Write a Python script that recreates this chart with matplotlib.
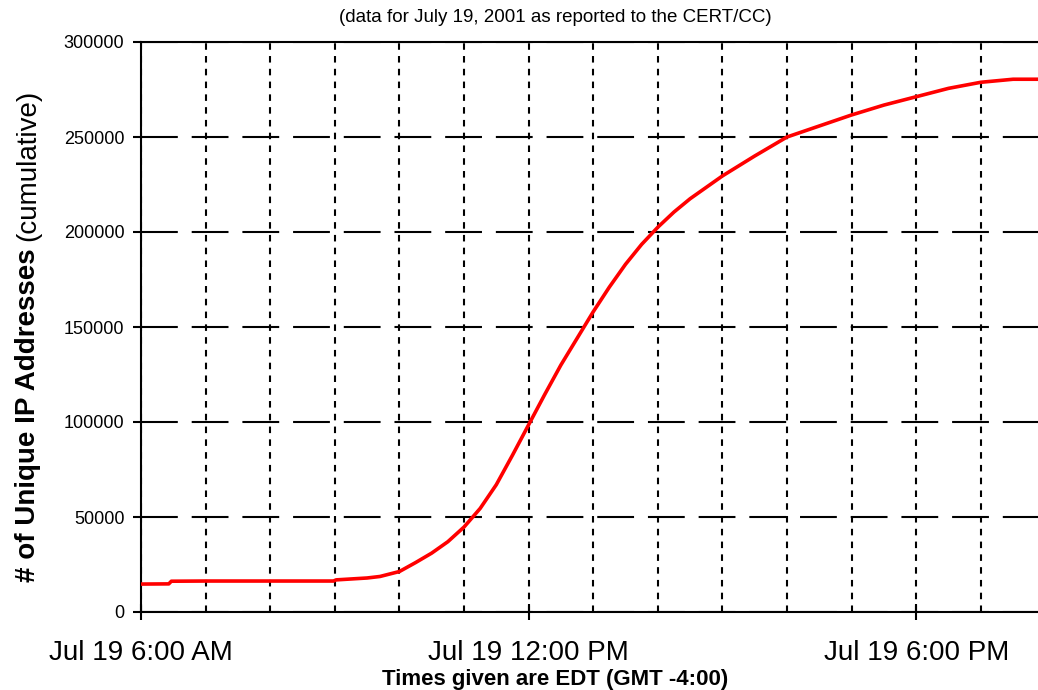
import matplotlib.pyplot as plt

plt.rcParams['font.family'] = ['Liberation Sans', 'DejaVu Sans']
plt.rcParams['lines.scale_dashes'] = False

# hours after midnight (EDT), cumulative unique IPs
hours = [6.0, 6.43, 6.47, 7.0, 8.0, 8.98, 9.02, 9.5, 9.7, 10.0, 10.25, 10.5, 10.75,
         11.0, 11.25, 11.5, 11.75, 12.0, 12.25, 12.5, 12.75, 13.0, 13.25, 13.5,
         13.75, 14.0, 14.25, 14.5, 15.0, 15.5, 16.0, 16.5, 17.0, 17.5, 18.0, 18.5,
         19.0, 19.5, 19.9]
ips = [14700, 14800, 16200, 16300, 16300, 16300, 16900, 17900, 18700, 21300, 26000,
       31000, 37000, 44700, 54500, 67000, 82500, 98500, 114500, 130000, 144000,
       158000, 171000, 183000, 193500, 202500, 210500, 217500, 229500, 240000,
       250000, 255800, 261600, 266800, 271200, 275600, 278800, 280400, 280400]

major_hours = [6, 12, 18]
major_labels = ['Jul 19 6:00 AM', 'Jul 19 12:00 PM', 'Jul 19 6:00 PM']
grid_hours = list(range(7, 20))
y_ticks = [0, 50000, 100000, 150000, 200000, 250000, 300000]

fig = plt.figure(figsize=(10.38, 6.9), dpi=100)
ax = fig.add_axes([141 / 1038, 78 / 690, 897 / 1038, 570 / 690])

ax.plot(hours, ips, color='#ff0000', lw=2.6, zorder=3)

ax.set_xlim(6, 6 + 897 / 64.6)
ax.set_ylim(0, 300000)

ax.set_xticks(major_hours)
ax.set_xticklabels(major_labels, fontsize=20)
ax.set_xticks(grid_hours, minor=True)
ax.set_yticks(y_ticks)
ax.set_yticklabels([str(v) for v in y_ticks], fontsize=13)

ax.tick_params(axis='x', which='major', direction='inout', length=12, width=1.5, pad=14)
ax.tick_params(axis='x', which='minor', length=0)
ax.tick_params(axis='y', direction='out', length=6, width=1.5, pad=6)

ax.grid(axis='x', which='both', color='black', lw=1.5, linestyle=(0, (4.7, 4.5)), zorder=1)
ax.grid(axis='y', which='major', color='black', lw=1.5, linestyle=(0, (26.5, 10)), zorder=1)

for s in ['left', 'bottom', 'top']:
    ax.spines[s].set_linewidth(1.5)
ax.spines['right'].set_visible(False)

fig.text(555 / 1038, 1 - 17 / 690, '(data for July 19, 2001 as reported to the CERT/CC)',
         ha='center', va='center', fontsize=13.5)
fig.text(555 / 1038, 1 - 680 / 690, 'Times given are EDT (GMT -4:00)',
         ha='center', va='center', fontsize=16, fontweight='bold')

# y label: bold part + normal part
t1 = fig.text(28 / 1038, 1 - 582 / 690, '# of Unique IP Addresses ', rotation=90,
              ha='center', va='bottom', fontsize=20, fontweight='bold')
fig.canvas.draw()
bb = t1.get_window_extent()
fig.text(28 / 1038, bb.y1 / fig.bbox.height, '(cumulative)', rotation=90,
         ha='center', va='bottom', fontsize=20)

fig.savefig('out.png', dpi=100)
